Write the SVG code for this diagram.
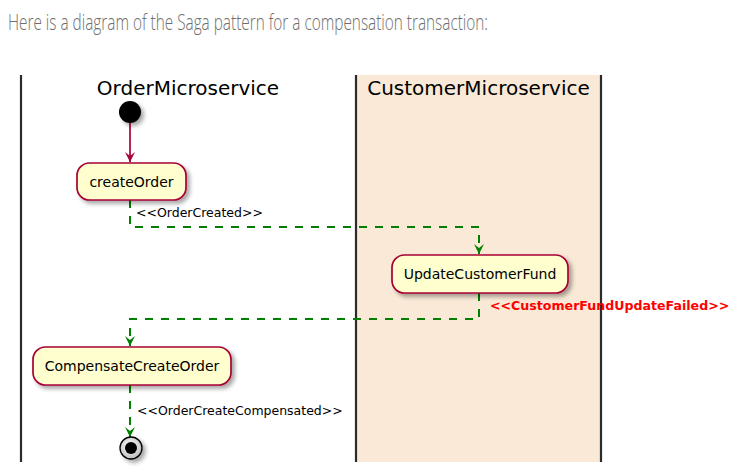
<svg xmlns="http://www.w3.org/2000/svg" width="741" height="472" viewBox="0 0 741 472">
<style>
.hdr{font-family:"Open Sans","Liberation Sans",sans-serif;font-weight:300;font-size:21.5px;fill:#6e6e6e}
.lane{stroke:#2b2b2b;stroke-width:2.2;fill:none}
.title{font-family:"DejaVu Sans",sans-serif;font-size:20px;fill:#000}
.act{fill:#FEFECE;stroke:#A80036;stroke-width:1.7}
.atext{font-family:"DejaVu Sans",sans-serif;font-size:14px;fill:#000;text-anchor:middle}
.lbl{font-family:"DejaVu Sans",sans-serif;font-size:12.5px;fill:#000}
.red{font-family:"DejaVu Sans",sans-serif;font-size:12.6px;font-weight:bold;fill:#FF0000}
.g{stroke:#008000;stroke-width:2;stroke-dasharray:8,8;fill:none}
.c{stroke:#A80036;stroke-width:1.7;fill:none}
</style>
<defs>
<filter id="sh" x="-30%" y="-30%" width="170%" height="170%">
<feDropShadow dx="3" dy="3" stdDeviation="2" flood-color="#000" flood-opacity="0.35"/>
</filter>
<marker id="ag" markerWidth="12" markerHeight="12" refX="10" refY="5" orient="auto" markerUnits="userSpaceOnUse" viewBox="0 0 12 10">
<polygon points="0,0 10,5 0,10 4,5" fill="#008000"/>
</marker>
<marker id="ac" markerWidth="12" markerHeight="12" refX="10" refY="5" orient="auto" markerUnits="userSpaceOnUse" viewBox="0 0 12 10">
<polygon points="0,0 10,5 0,10 4,5" fill="#A80036"/>
</marker>
<radialGradient id="endg" cx="0.45" cy="0.4" r="0.6">
<stop offset="0" stop-color="#ffffff"/>
<stop offset="1" stop-color="#bdbdbd"/>
</radialGradient>
</defs>
<rect width="741" height="472" fill="#ffffff"/>
<text class="hdr" x="8" y="30" textLength="480" lengthAdjust="spacingAndGlyphs">Here is a diagram of the Saga pattern for a compensation transaction:</text>

<g id="lanes">
<rect x="356" y="75" width="245" height="387" fill="#F9E9D6"/>
<line class="lane" x1="21" y1="75" x2="21" y2="462"/>
<line class="lane" x1="356" y1="75" x2="356" y2="462"/>
<line class="lane" x1="601" y1="75" x2="601" y2="462"/>
<text class="title" x="188" y="95" text-anchor="middle">OrderMicroservice</text>
<text class="title" x="478.5" y="95" text-anchor="middle">CustomerMicroservice</text>
</g>

<g id="connectors">
<line class="c" x1="130" y1="123" x2="130" y2="162" marker-end="url(#ac)"/>
<polyline class="g" points="130,200 130,227 479,227 479,254" marker-end="url(#ag)"/>
<polyline class="g" points="479,293 479,319 130,319 130,346" marker-end="url(#ag)"/>
<line class="g" x1="130" y1="385" x2="130" y2="437" marker-end="url(#ag)"/>
<text class="lbl" x="136" y="217">&lt;&lt;OrderCreated&gt;&gt;</text>
<text class="red" x="490" y="310">&lt;&lt;CustomerFundUpdateFailed&gt;&gt;</text>
<text class="lbl" x="137" y="415">&lt;&lt;OrderCreateCompensated&gt;&gt;</text>
</g>

<g id="start">
<circle cx="130" cy="112" r="11" fill="#000" filter="url(#sh)"/>
</g>
<g id="createOrder">
<rect class="act" x="77" y="163" width="109" height="37" rx="12.5" filter="url(#sh)"/>
<text class="atext" x="131.5" y="186.5">createOrder</text>
</g>
<g id="updateCustomerFund">
<rect class="act" x="392" y="255" width="176" height="38" rx="12.5" filter="url(#sh)"/>
<text class="atext" x="480" y="279">UpdateCustomerFund</text>
</g>
<g id="compensateCreateOrder">
<rect class="act" x="33" y="347" width="198" height="38" rx="12.5" filter="url(#sh)"/>
<text class="atext" x="132" y="371">CompensateCreateOrder</text>
</g>
<g id="end">
<circle cx="131" cy="448" r="11" fill="url(#endg)" stroke="#000" stroke-width="1.3" filter="url(#sh)"/>
<circle cx="131" cy="448" r="6" fill="#000"/>
</g>
</svg>
